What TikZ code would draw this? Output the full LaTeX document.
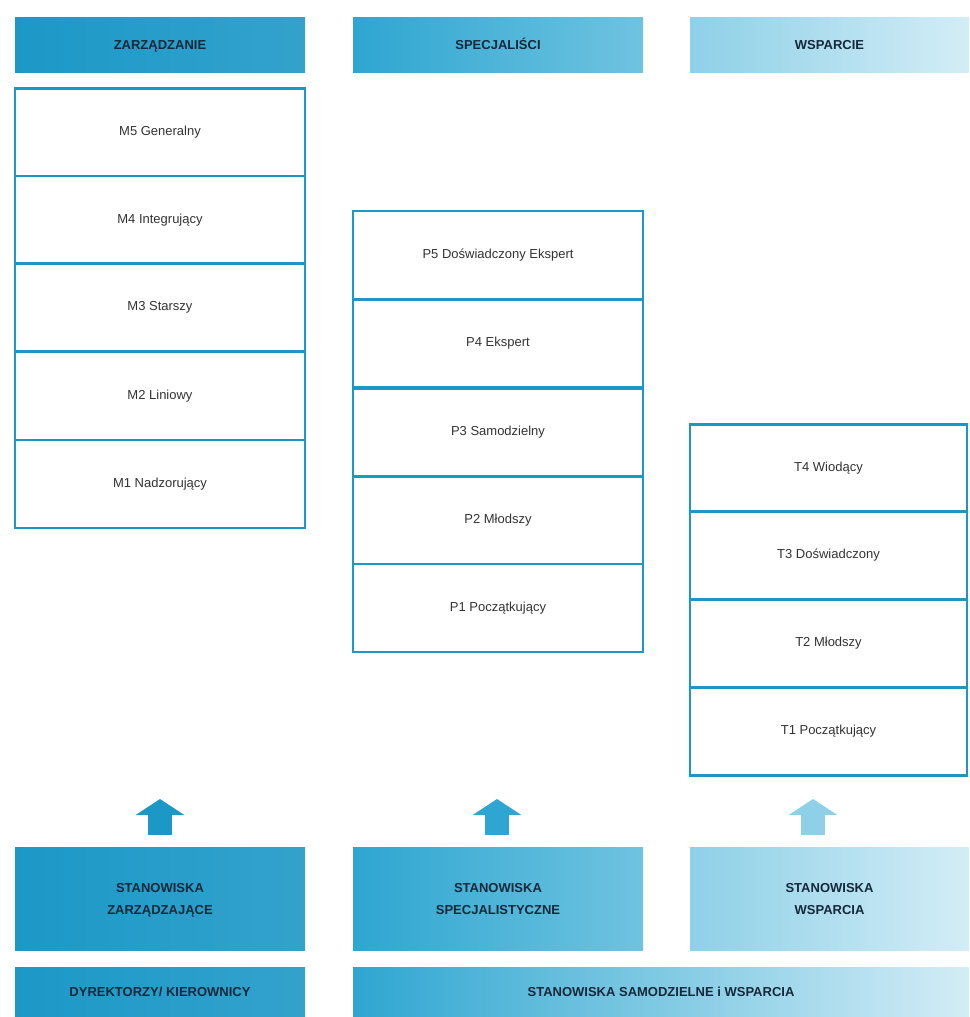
\documentclass[tikz,border=0pt]{standalone}
\usepackage{fontspec}
\setmainfont{Liberation Sans}
\usetikzlibrary{arrows.meta}
\definecolor{zblue}{HTML}{1C98C7}
\definecolor{sblue}{HTML}{2EA6D1}
\definecolor{sblue2}{HTML}{6FC3E0}
\definecolor{wblue}{HTML}{8ED0E8}
\definecolor{wblue2}{HTML}{D3EDF6}
\definecolor{navy}{HTML}{15293A}
\tikzstyle{head} = [minimum height=55pt, inner sep=0pt, text=navy, text depth=0pt, font={\bfseries\fontsize{13}{22}\selectfont}]
\tikzstyle{oneline} = [text height=9.5pt]
\tikzstyle{zarz} = [head, left color=zblue, right color=zblue!90!white]
\tikzstyle{spec} = [head, left color=sblue, right color=sblue2]
\tikzstyle{wsp} = [head, left color=wblue, right color=wblue2]
\tikzstyle{level} = [draw=zblue, line width=2.5pt, fill=white, inner sep=0pt, text=black!80, text height=9pt, text depth=3pt, font={\fontsize{13}{15}\selectfont}]
\tikzstyle{up} = [line width=24pt, -{Triangle[length=16pt, width=48pt]}]

\begin{document}
\begin{tikzpicture}[x=1pt, y=-1pt]
  \useasboundingbox (0,0) rectangle (969,1017);
  % naglowki
  \node[zarz, oneline, minimum width=290pt](hz) at (160,44.5){ZARZĄDZANIE};
  \node[spec, oneline, minimum width=290pt](hs) at (498,44.5){SPECJALIŚCI};
  \node[wsp, oneline, minimum width=279pt](hw) at (829.5,44.5){WSPARCIE};
  % zarzadzanie
  \node[level, minimum width=290pt, minimum height=88pt](m5) at (160,132.5){M5 Generalny};
  \node[level, minimum width=290pt, minimum height=88pt](m4) at (160,220){M4 Integrujący};
  \node[level, minimum width=290pt, minimum height=88pt](m3) at (160,307.5){M3 Starszy};
  \node[level, minimum width=290pt, minimum height=88pt](m2) at (160,396){M2 Liniowy};
  \node[level, minimum width=290pt, minimum height=88pt](m1) at (160,484){M1 Nadzorujący};
  % specjalisci
  \node[level, minimum width=290pt, minimum height=88pt](p5) at (498,255){P5 Doświadczony Ekspert};
  \node[level, minimum width=290pt, minimum height=88pt](p4) at (498,343.5){P4 Ekspert};
  \node[level, minimum width=290pt, minimum height=88pt](p3) at (498,432.5){P3 Samodzielny};
  \node[level, minimum width=290pt, minimum height=88pt](p2) at (498,520.5){P2 Młodszy};
  \node[level, minimum width=290pt, minimum height=88pt](p1) at (498,608){P1 Początkujący};
  % wsparcie
  \node[level, minimum width=277pt, minimum height=87.5pt](t4) at (828.5,468){T4 Wiodący};
  \node[level, minimum width=277pt, minimum height=87.5pt](t3) at (828.5,555){T3 Doświadczony};
  \node[level, minimum width=277pt, minimum height=87.5pt](t2) at (828.5,643.5){T2 Młodszy};
  \node[level, minimum width=277pt, minimum height=87.5pt](t1) at (828.5,731.5){T1 Początkujący};
  % stanowiska
  \node[zarz, minimum width=290pt, minimum height=103pt, align=center](sz) at (160,898.5){STANOWISKA\\ZARZĄDZAJĄCE};
  \node[spec, minimum width=290pt, minimum height=103pt, align=center](ss) at (498,898.5){STANOWISKA\\SPECJALISTYCZNE};
  \node[wsp, minimum width=279pt, minimum height=103pt, align=center](sw) at (829.5,898.5){STANOWISKA\\WSPARCIA};
  \node[zarz, oneline, minimum width=290pt, minimum height=50pt](dk) at (160,992){DYREKTORZY/ KIEROWNICY};
  \node[head, oneline, left color=sblue, right color=wblue2, minimum width=616pt, minimum height=50pt](sw2) at (661,992){STANOWISKA SAMODZIELNE i WSPARCIA};
  % strzalki
  \coordinate (u1) at (160,835);
  \coordinate (u2) at (497,835);
  \coordinate (u3) at (813,835);
  \coordinate (a1) at (160,799);
  \coordinate (a2) at (497,799);
  \coordinate (a3) at (813,799);
  \draw[up, color=zblue](u1)--(a1);
  \draw[up, color=sblue](u2)--(a2);
  \draw[up, color=wblue](u3)--(a3);
\end{tikzpicture}
\end{document}
